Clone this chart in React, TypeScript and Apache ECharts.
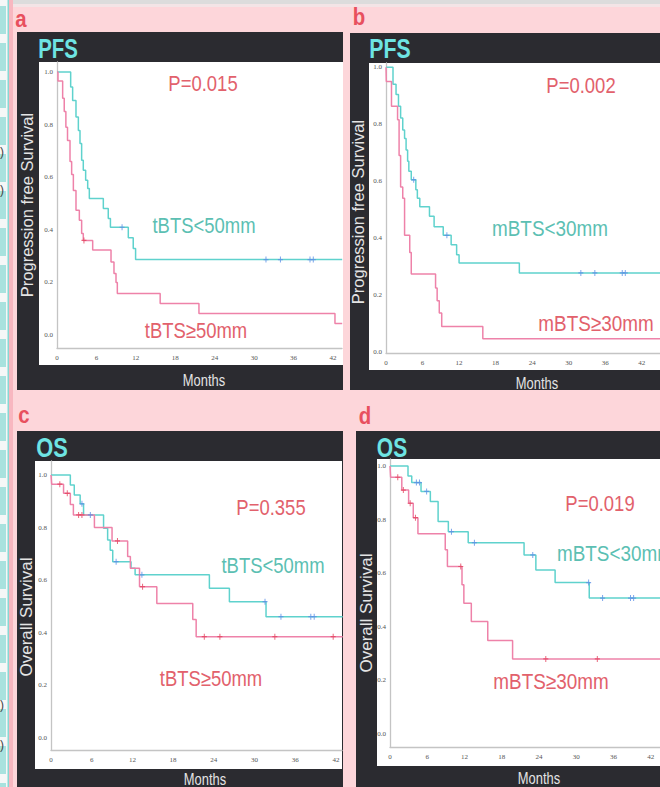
import React, { useEffect, useRef } from "react";
import * as echarts from "echarts";

const xTicks = [0, 6, 12, 18, 24, 30, 36, 42];
const yTicks = [0, 0.2, 0.4, 0.6, 0.8, 1.0];

// Panel a: PFS by tBTS
const aLowT = [0, 2.08, 2.38, 2.89, 3.25, 3.5, 3.75, 4.0, 4.36, 4.67, 4.92, 7.05, 7.8, 8.13, 10.85, 11.6, 11.96, 43.4];
const aLowS = [1, 0.943, 0.892, 0.829, 0.778, 0.728, 0.665, 0.627, 0.589, 0.557, 0.519, 0.481, 0.443, 0.41, 0.37, 0.329, 0.287, 0.287];
const aLowCensT = [9.9, 31.8, 34.0, 38.5, 39.0];
const aLowCensS = [0.41, 0.287, 0.287, 0.287, 0.287];
const aHighT = [0, 0.15, 0.86, 1.1, 1.35, 1.6, 1.98, 2.23, 2.49, 2.89, 3.4, 3.75, 4.0, 5.43, 8.22, 8.67, 8.98, 9.18, 15.7, 21.6, 42.3, 43.4];
const aHighS = [1, 0.966, 0.9, 0.85, 0.79, 0.74, 0.66, 0.61, 0.55, 0.475, 0.437, 0.386, 0.36, 0.323, 0.278, 0.234, 0.2, 0.158, 0.12, 0.082, 0.044, 0.044];
const aHighCensT = [4.1];
const aHighCensS = [0.36];

// Panel b: PFS by mBTS
const bLowT = [0, 1.15, 1.65, 2.05, 2.4, 2.75, 3.05, 3.3, 3.55, 3.75, 4.15, 4.9, 5.15, 5.55, 7.14, 7.9, 9.4, 10.7, 11.6, 12.0, 21.9, 45];
const bLowS = [1, 0.94, 0.904, 0.863, 0.822, 0.78, 0.75, 0.71, 0.67, 0.635, 0.605, 0.57, 0.54, 0.51, 0.477, 0.44, 0.41, 0.377, 0.342, 0.313, 0.278, 0.278];
const bLowCensT = [4.55, 10.0, 32.0, 34.3, 38.8, 39.3];
const bLowCensS = [0.605, 0.41, 0.278, 0.278, 0.278, 0.278];
const bHighT = [0, 0.05, 0.9, 1.9, 2.15, 2.4, 2.75, 3.05, 3.9, 4.15, 8.14, 8.4, 8.75, 9.15, 15.9, 45];
const bHighS = [1, 0.95, 0.863, 0.816, 0.69, 0.58, 0.54, 0.41, 0.35, 0.274, 0.225, 0.18, 0.137, 0.09, 0.047, 0.047];
const bHighCensT: number[] = [];
const bHighCensS: number[] = [];

// Panel c: OS by tBTS
const cLowT = [0, 2.85, 3.43, 4.3, 4.8, 7.75, 8.35, 8.73, 9.1, 11.8, 12.4, 23.35, 26.3, 31.7, 43];
const cLowS = [1, 0.962, 0.924, 0.89, 0.848, 0.797, 0.753, 0.714, 0.67, 0.645, 0.62, 0.569, 0.518, 0.461, 0.461];
const cLowCensT = [4.56, 5.8, 9.6, 13.4, 31.55, 33.9, 38.3, 38.8];
const cLowCensS = [0.89, 0.848, 0.67, 0.62, 0.518, 0.461, 0.461, 0.461];
const cHighT = [0, 0.1, 1.85, 2.85, 3.3, 6.4, 9.0, 11.3, 11.7, 13.05, 15.6, 20.9, 21.4, 43];
const cHighS = [1, 0.965, 0.93, 0.888, 0.848, 0.8, 0.749, 0.69, 0.645, 0.575, 0.511, 0.45, 0.385, 0.385];
const cHighCensT = [1.3, 2.4, 4.07, 4.56, 9.8, 13.5, 22.6, 24.9, 33.0, 41.6];
const cHighCensS = [0.965, 0.93, 0.848, 0.848, 0.749, 0.575, 0.385, 0.385, 0.385, 0.385];

// Panel d: OS by mBTS
const dLowT = [0, 2.9, 3.5, 5.0, 6.5, 7.75, 9.4, 12.6, 21.6, 23.5, 26.6, 32.1, 44];
const dLowS = [1, 0.963, 0.938, 0.905, 0.867, 0.793, 0.755, 0.714, 0.668, 0.612, 0.565, 0.507, 0.507];
const dLowCensT = [4.25, 4.75, 5.9, 9.9, 13.6, 23.0, 32.0, 34.25, 38.75, 39.25];
const dLowCensS = [0.938, 0.938, 0.905, 0.755, 0.714, 0.668, 0.565, 0.507, 0.507, 0.507];
const dHighT = [0, 0.1, 1.9, 3.0, 3.75, 4.5, 8.9, 9.25, 11.6, 11.9, 13.1, 15.75, 19.75, 44];
const dHighS = [1, 0.958, 0.91, 0.861, 0.807, 0.747, 0.687, 0.625, 0.557, 0.488, 0.42, 0.349, 0.28, 0.28];
const dHighCensT = [1.25, 2.15, 3.25, 4.1, 11.4, 25.1, 33.4];
const dHighCensS = [0.958, 0.91, 0.861, 0.807, 0.625, 0.28, 0.28];

const CYAN = "#5fd2cd";
const PINK = "#ee82a9";
const CENS_BLUE = "#5b8ee6";
const CENS_RED = "#e3425e";
const TEAL_TXT = "#5cbfb3";
const RED_TXT = "#e2616c";
const FONT = "'Liberation Sans', Arial, sans-serif";
const PLUS = "path://M4,0h2v4h4v2h-4v4h-2v-4h-4v-2h4z";

const zip = (t: number[], s: number[]) => t.map((v, i) => [v, s[i]]);

type Panel = {
  grid: { left: number; top: number; width: number; height: number };
  xMax: number;
  yMin: number;
  yMax: number;
  low: [number[], number[], number[], number[]];
  high: [number[], number[], number[], number[]];
};

const panels: Panel[] = [
  { grid: { left: 57, top: 62, width: 285, height: 286 }, xMax: 43.37, yMin: -0.049, yMax: 1.038,
    low: [aLowT, aLowS, aLowCensT, aLowCensS], high: [aHighT, aHighS, aHighCensT, aHighCensS] },
  { grid: { left: 386, top: 63, width: 300, height: 290 }, xMax: 45, yMin: -0.003, yMax: 1.015,
    low: [bLowT, bLowS, bLowCensT, bLowCensS], high: [bHighT, bHighS, bHighCensT, bHighCensS] },
  { grid: { left: 51, top: 461, width: 291, height: 289 }, xMax: 42.9, yMin: -0.046, yMax: 1.053,
    low: [cLowT, cLowS, cLowCensT, cLowCensS], high: [cHighT, cHighS, cHighCensT, cHighCensS] },
  { grid: { left: 390, top: 459, width: 290, height: 288 }, xMax: 43.5, yMin: -0.0485, yMax: 1.026,
    low: [dLowT, dLowS, dLowCensT, dLowCensS], high: [dHighT, dHighS, dHighCensT, dHighCensS] },
];

function txt(x: number, y: number, text: string, size: number, color: string, o: any = {}) {
  return {
    type: "text",
    x, y, z: 50,
    scaleX: o.scaleX ?? 1,
    rotation: o.rotation ?? 0,
    style: {
      text,
      fill: color,
      font: `${o.bold ? "bold " : ""}${size}px ${FONT}`,
      align: o.align ?? "center",
      verticalAlign: "middle",
    },
  };
}

function rect(x: number, y: number, w: number, h: number, fill: string) {
  return { type: "rect", z: -10, shape: { x, y, width: w, height: h }, style: { fill } };
}

export default function App() {
  const ref = useRef<HTMLDivElement>(null);
  useEffect(() => {
    if (!ref.current) return;
    const chart = echarts.init(ref.current, undefined, { renderer: "svg" });

    const grids = panels.map((p) => ({ ...p.grid, containLabel: false }));
    const xAxes = panels.map((p, i) => ({
      type: "value", gridIndex: i, min: 0, max: p.xMax,
      axisLine: { show: true, onZero: false, lineStyle: { color: "#c4c4c4", width: 1.3 } },
      axisTick: { show: false }, splitLine: { show: false },
      axisLabel: { customValues: xTicks, formatter: (v: number) => String(v), fontSize: 7,
        fontFamily: "'Liberation Serif', serif", color: "#555", margin: 6 },
    }));
    const yAxes = panels.map((p, i) => ({
      type: "value", gridIndex: i, min: p.yMin, max: p.yMax,
      axisLine: { show: true, onZero: false, lineStyle: { color: "#c4c4c4", width: 1.3 } },
      axisTick: { show: false }, splitLine: { show: false },
      axisLabel: { customValues: yTicks, formatter: (v: number) => v.toFixed(1), fontSize: 7,
        fontFamily: "'Liberation Serif', serif", color: "#555", margin: 4 },
    }));

    const series: any[] = [];
    panels.forEach((p, i) => {
      const groups: [typeof p.low, string, string][] = [[p.low, CYAN, CENS_BLUE], [p.high, PINK, CENS_RED]];
      groups.forEach(([g, col, ccol]) => {
        series.push({
          type: "line", xAxisIndex: i, yAxisIndex: i, step: "end", symbol: "none",
          data: zip(g[0], g[1]), lineStyle: { color: col, width: 1.5 }, z: 3,
        });
        series.push({
          type: "scatter", xAxisIndex: i, yAxisIndex: i, symbol: PLUS, symbolSize: [5, 6],
          data: zip(g[2], g[3]), itemStyle: { color: ccol }, z: 4,
        });
      });
    });

    const graphics: any[] = [];
    // top bar
    graphics.push(rect(0, 0, 660, 4, "#dcdcdc"));
    graphics.push(rect(0, 4, 660, 3, "#f3e4e6"));
    // left strip
    graphics.push(rect(0, 0, 8, 787, "#f5f7f7"));
    for (let y = 6; y < 787; y += 37) graphics.push(rect(0, y, 6, 28, "#a8e2de"));
    graphics.push(rect(7.5, 0, 1.5, 787, "#86d8d3"));
    graphics.push(rect(9, 0, 4, 787, "#f8b7c0"));
    // dark frames
    graphics.push(rect(17, 32, 326, 358, "#2b2b30"));
    graphics.push(rect(350, 33, 330, 357, "#2b2b30"));
    graphics.push(rect(17, 431, 326, 380, "#2b2b30"));
    graphics.push(rect(356, 431, 330, 380, "#2b2b30"));
    // white plot areas
    graphics.push(rect(39, 62, 304, 303, "#ffffff"));
    graphics.push(rect(369, 63, 300, 307, "#ffffff"));
    graphics.push(rect(35, 461, 307, 308, "#ffffff"));
    graphics.push(rect(377, 459, 290, 307, "#ffffff"));

    // stray characters at the left edge
    [152, 190, 705, 745].forEach((y) => graphics.push(txt(2, y, ")", 12, "#444")));

    // panel letters
    const LET = "#e8505e";
    graphics.push(txt(21, 19, "a", 24, LET, { bold: true, scaleX: 0.85 }));
    graphics.push(txt(359, 17, "b", 24, LET, { bold: true, scaleX: 0.85 }));
    graphics.push(txt(24, 415, "c", 24, LET, { bold: true, scaleX: 0.85 }));
    graphics.push(txt(365, 416, "d", 24, LET, { bold: true, scaleX: 0.85 }));

    // titles
    const TTL = "#6ee4e3";
    graphics.push(txt(58, 48, "PFS", 28, TTL, { bold: true, scaleX: 0.73 }));
    graphics.push(txt(390, 48, "PFS", 28, TTL, { bold: true, scaleX: 0.76 }));
    graphics.push(txt(52, 447, "OS", 28, TTL, { bold: true, scaleX: 0.78 }));
    graphics.push(txt(392, 447, "OS", 28, TTL, { bold: true, scaleX: 0.75 }));

    // axis names
    const AX = "#e4e4e4";
    graphics.push(txt(27, 205, "Progression free Survival", 16.5, AX, { rotation: Math.PI / 2 }));
    graphics.push(txt(358, 212, "Progression free Survival", 16.5, AX, { rotation: Math.PI / 2 }));
    graphics.push(txt(26, 617, "Overall Survival", 17, AX, { rotation: Math.PI / 2 }));
    graphics.push(txt(366, 613, "Overall Survival", 17, AX, { rotation: Math.PI / 2 }));
    graphics.push(txt(204, 380, "Months", 17, AX, { scaleX: 0.76 }));
    graphics.push(txt(537, 383, "Months", 17, AX, { scaleX: 0.76 }));
    graphics.push(txt(205, 779, "Months", 17, AX, { scaleX: 0.76 }));
    graphics.push(txt(539, 778, "Months", 17, AX, { scaleX: 0.76 }));

    // p-values and group labels
    const SX = 0.84;
    graphics.push(txt(203, 83, "P=0.015", 22, RED_TXT, { scaleX: SX }));
    graphics.push(txt(581, 85, "P=0.002", 22, RED_TXT, { scaleX: SX }));
    graphics.push(txt(271, 507, "P=0.355", 22, RED_TXT, { scaleX: SX }));
    graphics.push(txt(600, 503, "P=0.019", 22, RED_TXT, { scaleX: SX }));

    graphics.push(txt(204, 225, "tBTS<50mm", 22, TEAL_TXT, { scaleX: SX }));
    graphics.push(txt(196, 330, "tBTS≥50mm", 22, RED_TXT, { scaleX: SX }));
    graphics.push(txt(550, 228, "mBTS<30mm", 22.5, TEAL_TXT, { scaleX: SX }));
    graphics.push(txt(596, 323, "mBTS≥30mm", 22.5, RED_TXT, { scaleX: SX }));
    graphics.push(txt(273, 565, "tBTS<50mm", 22, TEAL_TXT, { scaleX: SX }));
    graphics.push(txt(211, 678, "tBTS≥50mm", 22, RED_TXT, { scaleX: SX }));
    graphics.push(txt(557, 553, "mBTS<30mm", 22.5, TEAL_TXT, { scaleX: SX, align: "left" }));
    graphics.push(txt(551, 681, "mBTS≥30mm", 22.5, RED_TXT, { scaleX: SX }));

    chart.setOption({
      animation: false,
      backgroundColor: "#fdd6da",
      grid: grids,
      xAxis: xAxes,
      yAxis: yAxes,
      series,
      graphic: { elements: graphics },
    });
    return () => chart.dispose();
  }, []);
  return <div ref={ref} style={{ position: "absolute", left: 0, top: 0, width: 660, height: 787 }} />;
}
